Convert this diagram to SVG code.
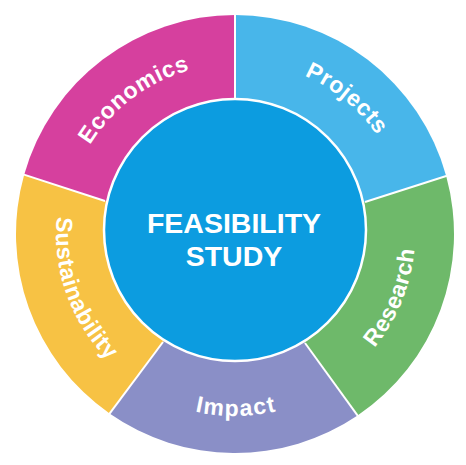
<svg xmlns="http://www.w3.org/2000/svg" width="466" height="465" viewBox="0 0 466 465">
<defs>
<style>
.seg{stroke:none}
.sep{stroke:#ffffff;stroke-width:2;fill:none}
.lbl{font-family:"Liberation Sans",Arial,sans-serif;font-weight:700;font-size:23px;fill:#ffffff;letter-spacing:0.6px}
.ctr{font-family:"Liberation Sans",Arial,sans-serif;font-weight:700;font-size:28.5px;fill:#ffffff;text-anchor:middle}
</style>
<path id="pEco" d="M72.34,283.42 A170,170 0 0 1 327.84,91.59"/>
<path id="pPro" d="M147.2,84.94 A173,173 0 0 1 398.07,291.75"/>
<path id="pRes" d="M228.72,413.89 A180,180 0 0 0 355.44,100.24"/>
<path id="pImp" d="M64.41,297.45 A182,182 0 0 0 406.46,295.06"/>
<path id="pSus" d="M120.42,96.47 A179,179 0 0 0 234.38,413"/>
</defs>
<rect width="466" height="465" fill="#ffffff"/>
<g id="economics">
<path class="seg" fill="#D6409E" d="M105,201 L24.17,174.74 A219,219 0 0 1 235,15 L235,98 L235,230 Z"/>
<text class="lbl"><textPath href="#pEco" startOffset="50%" text-anchor="middle">Economics</textPath></text>
</g>
<g id="projects">
<path class="seg" fill="#48B6EA" d="M235,98 L235,15 A219,219 0 0 1 446.17,175.96 L365,202 L235,230 Z"/>
<text class="lbl"><textPath href="#pPro" startOffset="50%" text-anchor="middle">Projects</textPath></text>
</g>
<g id="research">
<path class="seg" fill="#6EB96A" d="M365,202 L446.17,175.96 A219,219 0 0 1 357.57,415.49 L305,343 L235,230 Z"/>
<text class="lbl"><textPath href="#pRes" startOffset="50%" text-anchor="middle">Research</textPath></text>
</g>
<g id="impact">
<path class="seg" fill="#8A8FC7" d="M305,343 L357.57,415.49 A219,219 0 0 1 109.58,413.54 L163,342 L235,230 Z"/>
<text class="lbl" style="letter-spacing:1.5px"><textPath href="#pImp" startOffset="50%" text-anchor="middle">Impact</textPath></text>
</g>
<g id="sustainability">
<path class="seg" fill="#F7C244" d="M163,342 L109.58,413.54 A219,219 0 0 1 24.17,174.74 L105,201 L235,230 Z"/>
<text class="lbl"><textPath href="#pSus" startOffset="50%" text-anchor="middle">Sustainability</textPath></text>
</g>
<g id="connectors">
<line class="sep" x1="235" y1="98" x2="235" y2="14"/>
<line class="sep" x1="365" y1="202" x2="447" y2="175.7"/>
<line class="sep" x1="305" y1="343" x2="358.2" y2="416.3"/>
<line class="sep" x1="163" y1="342" x2="109" y2="414.3"/>
<line class="sep" x1="105" y1="201" x2="23.2" y2="174.4"/>
</g>
<g id="feasibility-study">
<circle cx="235" cy="230" r="131" fill="#0C9CE0" stroke="#ffffff" stroke-width="2.5"/>
<text class="ctr" x="234" y="233">FEASIBILITY</text>
<text class="ctr" x="234" y="266">STUDY</text>
</g>
</svg>
